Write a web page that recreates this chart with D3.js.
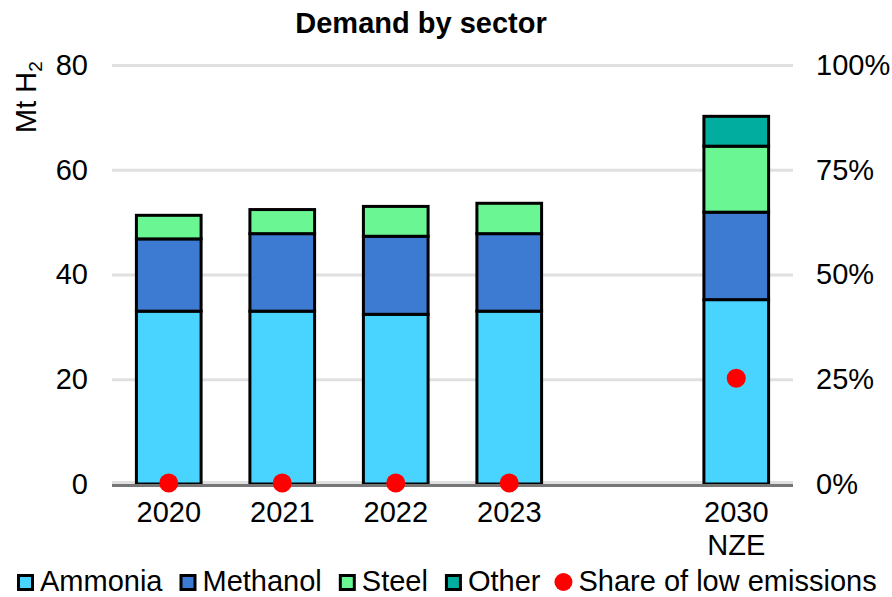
<!DOCTYPE html>
<html>
<head>
<meta charset="utf-8">
<script src="https://cdn.jsdelivr.net/npm/d3@7"></script>
<style>
  body { margin: 0; background: #fff; }
  text { font-family: "Liberation Sans", Arial, sans-serif; fill: #000; }
</style>
</head>
<body>
<div id="chart"></div>
<script>
// categories (one empty slot between 2023 and 2030)
let categories = ["2020", "2021", "2022", "2023", "gap", "2030"];
let xTickLabels = [["2020"], ["2021"], ["2022"], ["2023"], [], ["2030", "NZE"]];

// Mt H2 by sector
let ammonia  = [33.0, 33.0, 32.4, 33.0, null, 35.2];
let methanol = [13.8, 14.8, 14.9, 14.8, null, 16.7];
let steel    = [4.5, 4.6, 5.7, 5.8, null, 12.6];
let other    = [0, 0, 0, 0, null, 5.7];

// share of low emissions (right axis)
let lowShare = [0, 0, 0, 0, null, 0.25];

let leftTicks = [0, 20, 40, 60, 80];
let rightTicks = [0, 0.25, 0.5, 0.75, 1];

let seriesNames = ["Ammonia", "Methanol", "Steel", "Other"];
let seriesValues = [ammonia, methanol, steel, other];
let colors = ["#48d4ff", "#3d7ad2", "#69f693", "#00ad9f"];

let W = 892, H = 597;
let margin = { top: 65, right: 99, bottom: 113, left: 112 };
let width = W - margin.left - margin.right;
let height = H - margin.top - margin.bottom;

let svg = d3.select("#chart").append("svg")
  .attr("width", W)
  .attr("height", H);

let g = svg.append("g")
  .attr("transform", `translate(${margin.left}, ${margin.top})`);

let xScale = d3.scaleBand()
  .domain(categories)
  .range([0, width])
  .paddingInner(0.43)
  .paddingOuter(0.215);
let yScale = d3.scaleLinear().domain([0, 80]).range([height, 0]);
let yRight = d3.scaleLinear().domain([0, 1]).range([height, 0]);

// gridlines
g.append("g")
  .attr("class", "grid")
  .call(d3.axisLeft(yScale).tickValues(leftTicks).tickSize(-width).tickFormat(""))
  .call(s => s.select(".domain").remove())
  .selectAll("line")
  .attr("stroke", "#e0e0e0")
  .attr("stroke-width", 3)
  .attr("transform", d => d === 0 ? "translate(0,-2)" : null);

// left tick labels
g.append("g")
  .attr("transform", "translate(-24, 0)")
  .call(d3.axisLeft(yScale).tickValues(leftTicks).tickSize(0).tickPadding(0))
  .call(s => s.select(".domain").remove())
  .selectAll("text")
  .style("font-size", "29px")
  .attr("fill", "#000");

// right tick labels
g.append("g")
  .attr("transform", `translate(${width + 23}, 0)`)
  .call(d3.axisRight(yRight).tickValues(rightTicks).tickSize(0).tickPadding(0).tickFormat(d3.format(".0%")))
  .call(s => s.select(".domain").remove())
  .selectAll("text")
  .style("font-size", "29px")
  .attr("fill", "#000");

// bars
let table = categories.map((c, i) => {
  let row = { cat: c };
  seriesNames.forEach((k, j) => { row[k] = seriesValues[j][i]; });
  return row;
}).filter(d => d.Ammonia != null);

let stacked = d3.stack().keys(seriesNames)(table);

g.append("g")
  .selectAll("g")
  .data(stacked)
  .join("g")
  .attr("fill", (d, i) => colors[i])
  .selectAll("rect")
  .data(d => d.filter(p => p[1] - p[0] > 0))
  .join("rect")
  .attr("x", d => xScale(d.data.cat))
  .attr("width", xScale.bandwidth())
  .attr("y", d => yScale(d[1]))
  .attr("height", d => yScale(d[0]) - yScale(d[1]))
  .attr("stroke", "#000")
  .attr("stroke-width", 3);

// x axis baseline
g.append("line")
  .attr("x1", 0).attr("x2", width)
  .attr("y1", yScale(0) + 1.5).attr("y2", yScale(0) + 1.5)
  .attr("stroke", "#767676")
  .attr("stroke-width", 3);

// x tick labels
let xAxisG = g.append("g")
  .attr("transform", `translate(0, ${height})`)
  .call(d3.axisBottom(xScale).tickSize(0).tickFormat(""))
  .call(s => s.select(".domain").remove());
xAxisG.selectAll(".tick text")
  .style("font-size", "29px")
  .attr("y", 0)
  .attr("dy", null)
  .each(function (d) {
    let lines = xTickLabels[categories.indexOf(d)];
    d3.select(this).selectAll("tspan")
      .data(lines)
      .join("tspan")
      .attr("x", 0)
      .attr("y", (l, i) => 38 + i * 33)
      .text(l => l);
  });

// share dots
let dots = categories.map((c, i) => ({ cat: c, v: lowShare[i] })).filter(d => d.v != null);
g.append("g")
  .selectAll("circle")
  .data(dots)
  .join("circle")
  .attr("cx", d => xScale(d.cat) + xScale.bandwidth() / 2)
  .attr("cy", d => yRight(d.v) - 1)
  .attr("r", 9.5)
  .attr("fill", "#ff0000");

// title
svg.append("text")
  .attr("x", 421)
  .attr("y", 33)
  .attr("text-anchor", "middle")
  .style("font-size", "29px")
  .style("font-weight", "bold")
  .text("Demand by sector");

// y-axis label
let yLab = svg.append("text")
  .attr("transform", "translate(36, 133) rotate(-90)")
  .style("font-size", "29px");
yLab.append("tspan").text("Mt H");
yLab.append("tspan").attr("dy", 6).style("font-size", "19px").text("2");

// legend
let legend = svg.append("g").attr("transform", "translate(0, 591)");
let cursor = 17;
seriesNames.forEach((name, i) => {
  legend.append("rect")
    .attr("x", cursor + 1.5)
    .attr("y", -15.5)
    .attr("width", 14)
    .attr("height", 14)
    .attr("fill", colors[i])
    .attr("stroke", "#000")
    .attr("stroke-width", 3);
  let t = legend.append("text")
    .attr("x", cursor + 23)
    .attr("y", 0)
    .style("font-size", "29px")
    .text(name);
  cursor += 23 + t.node().getComputedTextLength() + 17;
});
legend.append("circle")
  .attr("cx", cursor + 6)
  .attr("cy", -9)
  .attr("r", 9)
  .attr("fill", "#ff0000");
legend.append("text")
  .attr("x", cursor + 21)
  .attr("y", 0)
  .style("font-size", "29px")
  .text("Share of low emissions");
</script>
</body>
</html>
